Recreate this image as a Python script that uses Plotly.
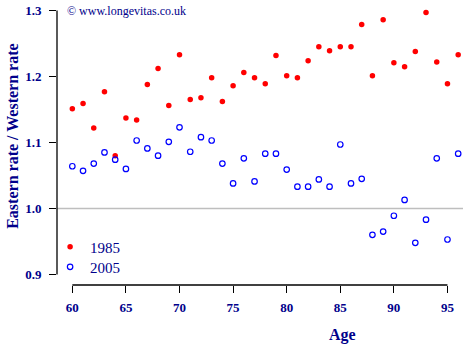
import plotly.graph_objects as go

# Age at which the mortality ratio is measured
ages = [60, 61, 62, 63, 64, 65, 66, 67, 68, 69, 70, 71, 72, 73, 74, 75, 76, 77, 78,
        79, 80, 81, 82, 83, 84, 85, 86, 87, 88, 89, 90, 91, 92, 93, 94, 95, 96]

# Ratio of eastern to western mortality rates
ratio_1985 = [1.151, 1.159, 1.122, 1.177, 1.080, 1.137, 1.134, 1.188, 1.212, 1.156,
              1.233, 1.165, 1.168, 1.198, 1.162, 1.186, 1.206, 1.198, 1.189, 1.232,
              1.201, 1.198, 1.224, 1.245, 1.239, 1.245, 1.245, 1.279, 1.201, 1.286,
              1.221, 1.215, 1.238, 1.297, 1.222, 1.189, 1.233]

ratio_2005 = [1.064, 1.057, 1.068, 1.085, 1.074, 1.060, 1.103, 1.091, 1.080, 1.101,
              1.123, 1.086, 1.108, 1.103, 1.068, 1.038, 1.076, 1.041, 1.083, 1.083,
              1.059, 1.033, 1.033, 1.044, 1.033, 1.097, 1.038, 1.045, 0.960, 0.965,
              0.989, 1.013, 0.948, 0.983, 1.076, 0.953, 1.083]

x_ticks = [60, 65, 70, 75, 80, 85, 90, 95]
y_ticks = [0.9, 1.0, 1.1, 1.2, 1.3]

NAVY = "#00008B"
SERIF = "Liberation Serif"

fig = go.Figure()
fig.add_trace(go.Scatter(
    x=ages, y=ratio_1985, mode="markers", name="1985", legend="legend",
    marker=dict(symbol="circle", size=5.5, color="#FF0000"),
))
fig.add_trace(go.Scatter(
    x=ages, y=ratio_2005, mode="markers", name="2005", legend="legend2",
    marker=dict(symbol="circle-open", size=5.5, color="#0000FF",
                line=dict(width=1.2, color="#0000FF")),
))

# Reference line at parity
fig.add_hline(y=1.0, line=dict(color="#BEBEBE", width=1.5), layer="below")

# Axis lines that span only the tick range
fig.add_shape(type="line", xref="paper", yref="y", x0=0, x1=0,
              y0=y_ticks[0], y1=y_ticks[-1], line=dict(color="black", width=1.3))
fig.add_shape(type="line", xref="x", yref="paper", x0=x_ticks[0], x1=x_ticks[-1],
              y0=0, y1=0, line=dict(color="black", width=1.3))

fig.update_xaxes(
    range=[58.57, 96.45], tickvals=x_ticks, showgrid=False, zeroline=False,
    showline=False, ticks="outside", ticklen=7, tickwidth=1.3, tickcolor="black",
    tickfont=dict(family=SERIF, size=13, color=NAVY, weight="bold"),
    ticklabelstandoff=3,
)
fig.update_yaxes(
    range=[0.884, 1.316], tickvals=y_ticks, tickformat=".1f", showgrid=False,
    zeroline=False, showline=False, ticks="outside", ticklen=7, tickwidth=1.3,
    tickcolor="black",
    tickfont=dict(family=SERIF, size=13, color=NAVY, weight="bold"),
    ticklabelstandoff=5,
)

fig.add_annotation(text="Age", xref="paper", yref="paper", x=0.742, y=0,
                   yshift=-50, showarrow=False, yanchor="middle",
                   font=dict(family=SERIF, size=16, color=NAVY, weight="bold"))
fig.add_annotation(text="Eastern rate / Western rate", xref="paper", yref="paper",
                   x=0, xshift=-44, y=0.52, textangle=-90, showarrow=False,
                   xanchor="center", yanchor="middle",
                   font=dict(family=SERIF, size=16, color=NAVY, weight="bold"))
fig.add_annotation(text="© www.longevitas.co.uk", xref="paper", yref="paper",
                   x=0, xshift=8, y=1, yshift=-11, showarrow=False,
                   xanchor="left", yanchor="middle",
                   font=dict(family=SERIF, size=12, color=NAVY))

legend_style = dict(xanchor="left", yanchor="middle", bgcolor="rgba(0,0,0,0)",
                    borderwidth=0, itemsizing="trace",
                    font=dict(family=SERIF, size=15, color=NAVY))

fig.update_layout(
    width=470, height=350,
    margin=dict(l=57, r=7, t=0, b=65),
    plot_bgcolor="white", paper_bgcolor="white",
    showlegend=True,
    legend=dict(x=-0.017, y=0.133, **legend_style),
    legend2=dict(x=-0.017, y=0.063, **legend_style),
)

fig.write_html("out.html")
